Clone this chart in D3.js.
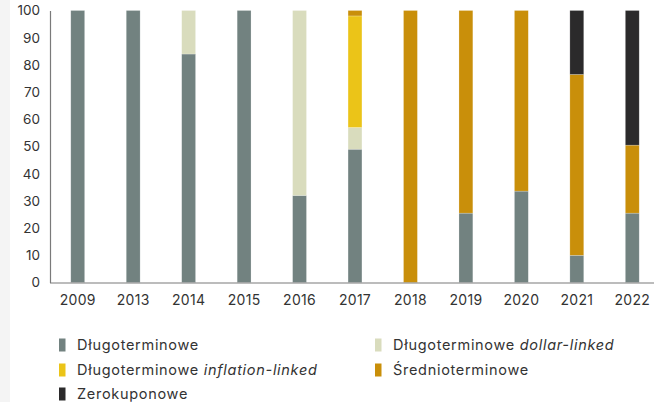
<!DOCTYPE html>
<html><head><meta charset="utf-8">
<script src="https://cdn.jsdelivr.net/npm/d3@7"></script>
<style>
html,body{margin:0;padding:0;background:#fff;}
svg{display:block;}
</style></head>
<body>
<svg id="c" width="654" height="402"></svg>
<script>
const years = ["2009","2013","2014","2015","2016","2017","2018","2019","2020","2021","2022"];
const seriesNames = ["Długoterminowe","Długoterminowe dollar-linked","Długoterminowe inflation-linked","Średnioterminowe","Zerokuponowe"];
const dlugo     = [100,100,84,100,32,49,0,25.5,33.6,10,25.5];
const dollar    = [0,0,16,0,68,8,0,0,0,0,0];
const inflation = [0,0,0,0,0,41,0,0,0,0,0];
const sredni    = [0,0,0,0,0,2,100,74.5,66.4,66.5,25];
const zero      = [0,0,0,0,0,0,0,0,0,23.5,49.5];
const yTicks = [0,10,20,30,40,50,60,70,80,90,100];
const colors = ["#728280","#d9dcbd","#ebc418","#c98f0a","#2b2a2b"];

const svg = d3.select("#c");
svg.append("rect").attr("x",0).attr("y",0).attr("width",10).attr("height",402).attr("fill","#f4f4f4");

const x = d3.scaleBand().domain(years).range([50,660]).paddingInner(0.75).paddingOuter(0.375);
const y = d3.scaleLinear().domain([0,100]).range([282.5,10.5]);

const rows = years.map((yr,i)=>({year:yr, s0:dlugo[i], s1:dollar[i], s2:inflation[i], s3:sredni[i], s4:zero[i]}));
const stack = d3.stack().keys(["s0","s1","s2","s3","s4"])(rows);

svg.append("g").selectAll("g").data(stack).join("g")
  .attr("fill",(d,i)=>colors[i])
  .selectAll("rect").data(d=>d.filter(v=>v[1]-v[0]>0)).join("rect")
  .attr("x",d=>x(d.data.year))
  .attr("width",x.bandwidth())
  .attr("y",d=>y(d[1]))
  .attr("height",d=>y(d[0])-y(d[1]))
  .attr("stroke","rgba(255,255,255,0.35)")
  .attr("stroke-width",0.6);

const font = "Inter, sans-serif";
const yAxis = svg.append("g").attr("transform","translate(50,0)")
  .call(d3.axisLeft(y).tickValues(yTicks).tickSize(0).tickPadding(10));
yAxis.select(".domain").attr("stroke","#7a7a7a").attr("stroke-width",1.2);
yAxis.selectAll("text").attr("font-family",font).attr("font-size",13.5).attr("fill","#333");

const xAxis = svg.append("g").attr("transform","translate(0,283)")
  .call(d3.axisBottom(x).tickSize(0).tickPadding(12));
xAxis.select(".domain").attr("stroke","#7a7a7a").attr("stroke-width",1.2).attr("d","M50,0H654");
xAxis.selectAll("text").attr("font-family",font).attr("font-size",14).attr("letter-spacing",0.3).attr("fill","#333");

const legendPos = [[59,345],[375,345],[59,370],[375,370],[59,394]];
const lg = svg.append("g").attr("font-family",font).attr("font-size",14.5).attr("letter-spacing",0.7).attr("fill","#333");
const labelParts = [
  [["Długoterminowe",false]],
  [["Długoterminowe ",false],["dollar-linked",true]],
  [["Długoterminowe ",false],["inflation-linked",true]],
  [["Średnioterminowe",false]],
  [["Zerokuponowe",false]]
];
seriesNames.forEach((n,i)=>{
  const [lx,ly] = legendPos[i];
  lg.append("rect").attr("x",lx).attr("y",ly-6.5).attr("width",6.5).attr("height",13).attr("fill",colors[i]);
  const t = lg.append("text").attr("x",lx+18).attr("y",ly).attr("dy","0.35em");
  labelParts[i].forEach(([s,it])=>{
    t.append("tspan").text(s).attr("font-style",it?"italic":"normal");
  });
});
</script>
</body></html>
